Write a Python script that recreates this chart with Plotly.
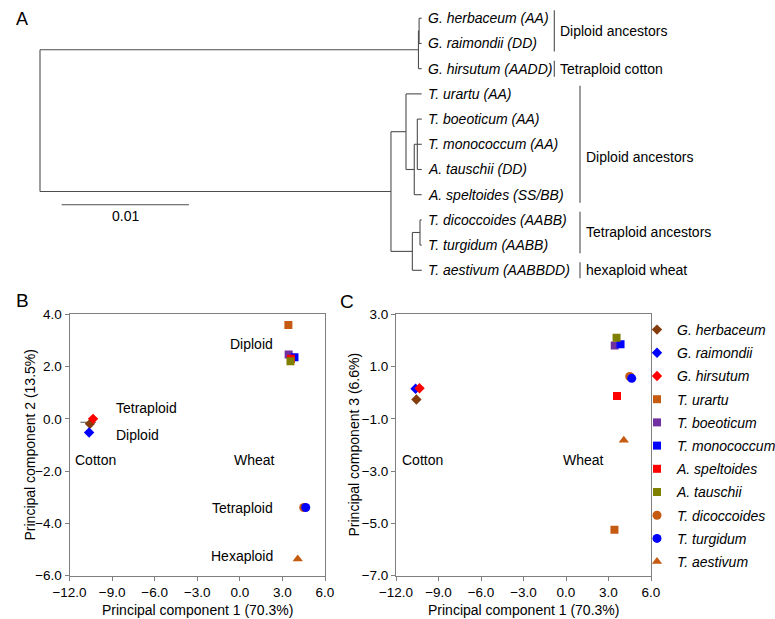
import plotly.graph_objects as go

# ---------------- data ----------------
species = ["G. herbaceum", "G. raimondii", "G. hirsutum", "T. urartu", "T. boeoticum",
           "T. monococcum", "A. speltoides", "A. tauschii", "T. dicoccoides", "T. turgidum",
           "T. aestivum"]
pc1 = [-10.56, -10.62, -10.34, 3.42, 3.44, 3.85, 3.6, 3.57, 4.5, 4.64, 4.08]
pc2 = [-0.19, -0.52, 0.0, 3.59, 2.46, 2.36, 2.3, 2.2, -3.39, -3.39, -5.36]
pc3 = [-0.26, 0.15, 0.17, -5.24, 1.81, 1.85, -0.13, 2.1, 0.62, 0.55, -1.82]
symbols = ["diamond", "diamond", "diamond", "square", "square", "square", "square", "square",
           "circle", "circle", "triangle-up"]
colors = ["#843C0C", "#0000FF", "#FF0000", "#C55A11", "#7030A0", "#0000FF", "#FF0000",
          "#808000", "#C55A11", "#0000FF", "#C55A11"]
sizes = [8, 8, 8, 8, 8, 8, 8, 8, 9, 9, 9]

# short reference segment near the cotton cluster in panel B
cotton_seg_x = [-11.23, -10.13]
cotton_seg_y = [-0.13, -0.13]

leaf_labels = ["G. herbaceum (AA)", "G. raimondii (DD)", "G. hirsutum (AADD)", "T. urartu (AA)",
               "T. boeoticum (AA)", "T. monococcum (AA)", "A. tauschii (DD)", "A. speltoides (SS/BB)",
               "T. dicoccoides (AABB)", "T. turgidum (AABB)", "T. aestivum (AABBDD)"]

# tree: (children or leaf index, branch length)
tree = ([
    ([
        ([(0, 0.0002), (1, 0.0002)], 0.00005),
        (2, 0.00025)], 0.02973),
    ([
        ([
            (3, 0.00123),
            ([
                ([(4, 0.00035), (5, 0.00035), (6, 0.00035)], 0.00024),
                (7, 0.00058)], 0.00065)], 0.00118),
        ([
            ([(8, 0.00013), (9, 0.00013)], 0.0006),
            (10, 0.00074)], 0.00168)], 0.02757)], 0.0)

scale_len = 0.01

groups = ["Diploid ancestors", "Tetraploid cotton", "Diploid ancestors", "Tetraploid ancestors",
          "hexaploid wheat"]
group_first = [0, 2, 3, 8, 10]
group_last = [1, 2, 7, 9, 10]
group_label_y = [0.5, 2, 5.5, 8.5, 10]
group_col = [0, 0, 1, 1, 1]

x_title = "Principal component 1 (70.3%)"
yB_title = "Principal component 2 (13.5%)"
yC_title = "Principal component 3 (6.6%)"

FONT = "Liberation Sans, Arial, sans-serif"

fig = go.Figure()

# ---------------- tree ----------------
tx, ty = [], []
leaf_pos = []


def walk(node, parent_x):
    content, blen = node
    x = parent_x + blen
    if isinstance(content, int):
        y = content
        leaf_pos.append((content, x))
    else:
        ys = [walk(ch, x) for ch in content]
        y = (ys[0] + ys[-1]) / 2
        tx.extend([x, x, None])
        ty.extend([ys[0], ys[-1], None])
    tx.extend([parent_x, x, None])
    ty.extend([y, y, None])
    return y


walk(tree, 0.0)
fig.add_trace(go.Scatter(x=tx, y=ty, mode="lines", line=dict(color="#4d4d4d", width=1.1),
                         xaxis="x3", yaxis="y3", showlegend=False, hoverinfo="skip"))

for idx, lx in leaf_pos:
    fig.add_annotation(x=lx, y=idx, xref="x3", yref="y3", text="<i>" + leaf_labels[idx] + "</i>",
                       showarrow=False, xanchor="left", yanchor="middle", xshift=4,
                       font=dict(size=14, color="black", family=FONT))

col_x = [0.0404, 0.04242]
bx, by = [], []
pad = 0.32
for g, f, l, gy, c in zip(groups, group_first, group_last, group_label_y, group_col):
    bx.extend([col_x[c], col_x[c], None])
    by.extend([f - pad, l + pad, None])
    fig.add_annotation(x=col_x[c], y=gy, xref="x3", yref="y3", text=g, showarrow=False,
                       xanchor="left", yanchor="middle", xshift=4,
                       font=dict(size=14, color="black", family=FONT))
fig.add_trace(go.Scatter(x=bx, y=by, mode="lines", line=dict(color="#4d4d4d", width=1.1),
                         xaxis="x3", yaxis="y3", showlegend=False, hoverinfo="skip"))

sb_x0 = 0.0017
sb_y = 7.40
fig.add_trace(go.Scatter(x=[sb_x0, sb_x0 + scale_len], y=[sb_y, sb_y], mode="lines",
                         line=dict(color="#4d4d4d", width=1.1), xaxis="x3", yaxis="y3",
                         showlegend=False, hoverinfo="skip"))
fig.add_annotation(x=sb_x0 + scale_len / 2, y=sb_y, xref="x3", yref="y3", text=f"{scale_len:g}",
                   showarrow=False, yanchor="top", yshift=-1,
                   font=dict(size=14, color="black", family=FONT))

# ---------------- scatter panels ----------------
fig.add_trace(go.Scatter(x=cotton_seg_x, y=cotton_seg_y, mode="lines",
                         line=dict(color="#555555", width=1.2), showlegend=False,
                         hoverinfo="skip", xaxis="x", yaxis="y"))

for i, sp in enumerate(species):
    m = dict(symbol=symbols[i], color=colors[i], size=sizes[i], line=dict(width=0))
    fig.add_trace(go.Scatter(x=[pc1[i]], y=[pc2[i]], mode="markers", marker=m, name=sp,
                             legendgroup=sp, showlegend=False, xaxis="x", yaxis="y"))
for i, sp in enumerate(species):
    m = dict(symbol=symbols[i], color=colors[i], size=sizes[i], line=dict(width=0))
    fig.add_trace(go.Scatter(x=[pc1[i]], y=[pc3[i]], mode="markers", marker=m,
                             name="<i>" + sp + "</i>", legendgroup=sp, showlegend=True,
                             xaxis="x2", yaxis="y2"))

txt = dict(size=14, color="black", family=FONT)
notesB = [("Diploid", 2.48, 2.88, "right"), ("Tetraploid", -8.89, 0.42, "left"),
          ("Diploid", -8.89, -0.6, "left"), ("Cotton", -10.15, -1.56, "center"),
          ("Wheat", 1.06, -1.56, "center"), ("Tetraploid", 2.48, -3.41, "right"),
          ("Hexaploid", 2.48, -5.26, "right")]
for t, x, y, a in notesB:
    fig.add_annotation(x=x, y=y, xref="x", yref="y", text=t, showarrow=False, xanchor=a,
                       font=txt)
notesC = [("Cotton", -10.14, -2.58, "center"), ("Wheat", 1.25, -2.58, "center")]
for t, x, y, a in notesC:
    fig.add_annotation(x=x, y=y, xref="x2", yref="y2", text=t, showarrow=False, xanchor=a,
                       font=txt)

for t, x, y, s in [("A", 21.5 / 775, 1 - 19 / 619, 18), ("B", 22.5 / 775, 1 - 300 / 619, 19),
                   ("C", 347 / 775, 1 - 301 / 619, 19)]:
    fig.add_annotation(x=x, y=y, xref="paper", yref="paper", text=t, showarrow=False,
                       xanchor="center", yanchor="middle",
                       font=dict(size=s, color="black", family=FONT))

# axis titles
ymid = 1 - 445 / 619
for t, x, y, ang in [(x_title, 197.3 / 775, 1 - 610 / 619, 0), (x_title, 523.5 / 775, 1 - 610 / 619, 0),
                     (yB_title, 29.5 / 775, ymid, -90), (yC_title, 353.5 / 775, ymid, -90)]:
    fig.add_annotation(x=x, y=y, xref="paper", yref="paper", text=t, showarrow=False,
                       xanchor="center", yanchor="middle", textangle=ang,
                       font=dict(size=14, color="black", family=FONT))

ax = dict(showgrid=False, zeroline=False, showline=True, linecolor="#7f7f7f", linewidth=1,
          mirror=True, ticks="outside", ticklen=4, tickcolor="#7f7f7f", automargin=False,
          tickfont=dict(size=13.5, color="black", family=FONT), tickformat=".1f")
ydom = [1 - 575.7 / 619, 1 - 314.3 / 619]

fig.update_layout(
    width=775, height=619, margin=dict(l=0, r=0, t=0, b=0, autoexpand=False),
    paper_bgcolor="white", plot_bgcolor="rgba(0,0,0,0)",
    font=dict(family=FONT, color="black"),
    xaxis=dict(ax, domain=[69.5 / 775, 325 / 775], range=[-12, 6], dtick=3, tick0=0),
    yaxis=dict(ax, domain=ydom, range=[-6, 4], dtick=2, tick0=0),
    xaxis2=dict(ax, domain=[396 / 775, 651 / 775], range=[-12, 6], dtick=3, tick0=0, anchor="y2"),
    yaxis2=dict(ax, domain=ydom, range=[-7, 3], dtick=2, tick0=-7, anchor="x2"),
    xaxis3=dict(domain=[0, 1], range=[-40 / 12730, 735 / 12730], visible=False, anchor="y3",
                automargin=False),
    yaxis3=dict(domain=[1 - 290 / 619, 1], range=[10.782, -0.726], visible=False, anchor="x3",
                automargin=False),
    legend=dict(x=637 / 775, y=1 - 314 / 619, xanchor="left", yanchor="top",
                bgcolor="rgba(0,0,0,0)", font=dict(size=14, family=FONT, color="black"),
                tracegroupgap=2, itemclick=False),
    showlegend=True,
)

fig.write_html("out.html")
